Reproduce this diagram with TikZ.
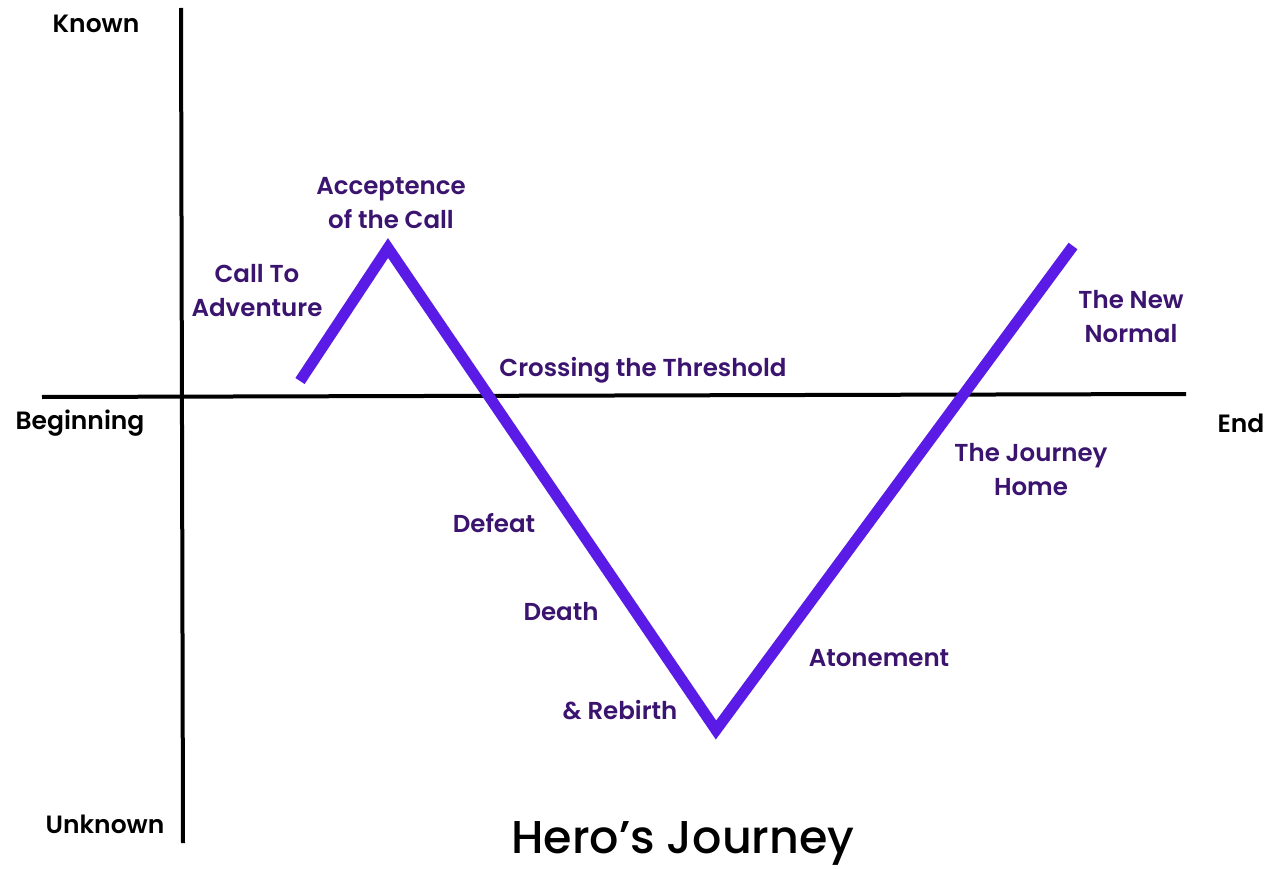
\documentclass[tikz,border=0pt]{standalone}
\usepackage{fontspec}
\setmainfont{Poppins}[UprightFont=* Medium, BoldFont=* SemiBold]
\definecolor{pathc}{HTML}{5A1BE6}
\definecolor{labc}{HTML}{3B1470}
\begin{document}
\begin{tikzpicture}[x=1pt,y=-1pt,
  axis/.style={line width=4pt,black},
  journey/.style={line width=11pt,pathc,line join=miter},
  lab/.style={font=\fontsize{24.5}{34}\selectfont\bfseries,text=labc,align=center,inner sep=0pt,yshift=-2pt},
  axlab/.style={font=\fontsize{25}{34}\selectfont\bfseries,text=black,inner sep=0pt,yshift=-2pt},
  title/.style={font=\fontsize{46}{54}\selectfont,text=black,inner sep=0pt}]
\useasboundingbox[fill=white] (0,0) rectangle (1272,869);
% axes
\coordinate (vtop) at (181,8);
\coordinate (vbot) at (183,843);
\coordinate (hl) at (42,397);
\coordinate (hr) at (1186,394);
\draw[axis] (vtop) -- (vbot);
\draw[axis] (hl) -- (hr);
% journey path
\coordinate (p0) at (300,381);
\coordinate (p1) at (388,248);
\coordinate (p2) at (716,730);
\coordinate (p3) at (1073,246);
\draw[journey] (p0) -- (p1) -- (p2) -- (p3);
% axis labels
\node[axlab] (known) at (96,22) {Known};
\node[axlab] (beg) at (80,421) {Beginning};
\node[axlab] (end) at (1241,421) {End};
\node[axlab] (unk) at (105,822) {Unknown};
% stage labels
\node[lab] (call) at (257,289) {Call To\\Adventure};
\node[lab] (acc) at (391,201) {Acceptence\\of the Call};
\node[lab] (cross) at (643,368) {Crossing the Threshold};
\node[lab] (newn) at (1131,315) {The New\\Normal};
\node[lab] (home) at (1031,468) {The Journey\\Home};
\node[lab] (def) at (494,521) {Defeat};
\node[lab] (death) at (561,610) {Death};
\node[lab] (reb) at (620,708) {\& Rebirth};
\node[lab] (aton) at (879,656) {Atonement};
\node[title] (ttl) at (683,843) {Hero’s Journey};
\end{tikzpicture}
\end{document}
